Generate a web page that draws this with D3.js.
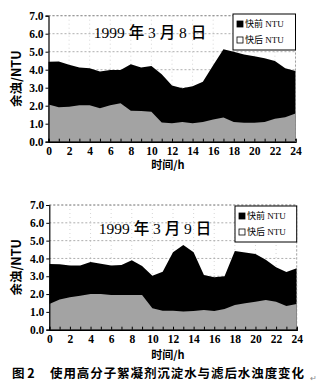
<!DOCTYPE html>
<html><head><meta charset="utf-8">
<script src="https://cdn.jsdelivr.net/npm/d3@7"></script>
<style>body{margin:0;background:#fff}svg{display:block}</style>
</head><body>
<svg id="c" width="324" height="385"></svg>
<script>
const hours = d3.range(0, 25);
const xTicks = [0,2,4,6,8,10,12,14,16,18,20,22,24];
const yTicks = [0,1,2,3,4,5,6,7];
const seriesNames = ["快前 NTU", "快后 NTU"];
const titles = ["1999 年 3 月 8 日", "1999 年 3 月 9 日"];
const before8 = [4.44,4.45,4.28,4.12,4.08,3.9,3.98,3.98,4.3,4.12,4.2,3.75,3.12,2.97,3.08,3.33,4.25,5.13,5.0,4.85,4.75,4.63,4.48,4.08,3.93];
const after8  = [2.07,1.92,1.94,2.03,2.03,1.86,2.02,2.13,1.72,1.7,1.67,1.06,1.02,1.1,1.03,1.1,1.24,1.35,1.1,1.05,1.05,1.1,1.28,1.36,1.57];
const before9 = [3.69,3.67,3.6,3.6,3.8,3.7,3.6,3.63,3.9,3.58,3.03,3.26,4.35,4.75,4.35,3.07,2.94,3.0,4.42,4.34,4.25,3.92,3.5,3.24,3.45];
const after9  = [1.44,1.7,1.82,1.91,2.0,2.0,1.95,1.95,1.95,1.95,1.2,1.07,1.07,1.02,1.05,1.1,1.05,1.16,1.38,1.48,1.57,1.67,1.57,1.33,1.44];
const caption = "使用高分子絮凝剂沉淀水与滤后水浊度变化";

const svg = d3.select("#c");
const serif = "'Liberation Serif','DejaVu Serif','Noto Sans CJK SC',serif";
const cjk = "'Noto Sans CJK SC','Noto Sans',sans-serif";

function chart(cfg){
  const g = svg.append("g");
  const x = d3.scaleLinear().domain([0,24]).range([cfg.x0, cfg.x1]);
  const y = d3.scaleLinear().domain([0,7]).range([cfg.yb, cfg.yt]);
  g.append("g").selectAll("line").data(yTicks.slice(1)).join("line")
    .attr("x1", cfg.x0).attr("x2", cfg.x1).attr("y1", d=>y(d)).attr("y2", d=>y(d))
    .attr("stroke", "#999").attr("stroke-width", 0.8).attr("stroke-dasharray", "2,2");
  g.append("g").selectAll("line").data(xTicks.slice(1)).join("line")
    .attr("x1", d=>x(d)).attr("x2", d=>x(d)).attr("y1", cfg.yt).attr("y2", cfg.yb)
    .attr("stroke", "#bbb").attr("stroke-width", 0.6).attr("stroke-dasharray", "1,3");
  const area = vals => d3.area().x((d,i)=>x(hours[i])).y0(y(0)).y1(d=>y(d))(vals);
  g.append("path").attr("d", area(cfg.before)).attr("fill", "#000");
  g.append("path").attr("d", area(cfg.after)).attr("fill", "#a3a3a3");
  const ax = g.append("g").attr("transform", `translate(0,${cfg.yb})`)
    .call(d3.axisBottom(x).tickValues(hours).tickSize(-3).tickFormat(d => d%2===0 ? d : ""));
  ax.select(".domain").attr("stroke-width", 1.4);
  ax.selectAll("text").attr("font-family", serif).attr("font-weight", "bold").attr("font-size", 11.5).attr("dy", "0.9em");
  const ay = g.append("g").attr("transform", `translate(${cfg.x0},0)`)
    .call(d3.axisLeft(y).tickValues(yTicks).tickSize(3).tickFormat(d3.format(".1f")));
  ay.select(".domain").attr("stroke-width", 1.2);
  ay.selectAll("text").attr("font-family", serif).attr("font-weight", "bold").attr("font-size", 11.5).attr("x", -5);
  g.append("path").attr("d", `M${cfg.x0},${cfg.yt}H${cfg.x1}V${cfg.yb}`)
    .attr("fill", "none").attr("stroke", "#888").attr("stroke-dasharray", "2,2").attr("stroke-width", 0.8);
  g.append("text").attr("x", cfg.tx).attr("y", cfg.ty).attr("text-anchor", "middle")
    .attr("font-family", serif).attr("font-size", 15.5).attr("font-weight", "500").text(cfg.title);
  g.append("text").attr("transform", `translate(21,${(cfg.yt+cfg.yb)/2}) rotate(-90)`)
    .attr("text-anchor", "middle").attr("font-family", cjk).attr("font-size", 12.5).attr("font-weight", "bold")
    .text("余浊/NTU");
  g.append("text").attr("x", 168).attr("y", cfg.xty).attr("text-anchor", "middle")
    .attr("font-family", cjk).attr("font-size", 11).attr("font-weight", "bold").text("时间/h");
  const lg = g.append("g");
  lg.append("rect").attr("x", cfg.lx).attr("y", cfg.ly).attr("width", cfg.x1 - cfg.lx).attr("height", 36)
    .attr("fill", "#fff").attr("stroke", "#000").attr("stroke-width", 1);
  seriesNames.forEach((n,i)=>{
    const yy = cfg.ly + 11 + i*16;
    lg.append("rect").attr("x", cfg.lx+4).attr("y", yy-4).attr("width", 6).attr("height", 6)
      .attr("fill", i===0 ? "#000" : "#fff").attr("stroke", "#000").attr("stroke-width", 0.8);
    lg.append("text").attr("x", cfg.lx+12).attr("y", yy+2).attr("font-family", serif).attr("font-size", 9).text(n);
  });
}

chart({x0:48.5, x1:295.5, yt:15.7, yb:141.7, before:before8, after:after8, title:titles[0], tx:150, ty:38, xty:169, lx:233, ly:14});
chart({x0:49.3, x1:296.7, yt:205, yb:329.7, before:before9, after:after9, title:titles[1], tx:155, ty:234, xty:359, lx:235, ly:206});

svg.append("text").attr("x", 12).attr("y", 378).attr("font-family", cjk).attr("font-weight", "bold").attr("font-size", 12.5).text("图 2");
svg.append("text").attr("x", 50).attr("y", 378).attr("font-family", cjk).attr("font-weight", "bold").attr("font-size", 12.5)
  .attr("textLength", 254).attr("lengthAdjust", "spacing").text(caption);
svg.append("text").attr("x", 310).attr("y", 381).attr("font-family", cjk).attr("font-size", 8).attr("fill", "#888").text("↵");
</script>
</body></html>
